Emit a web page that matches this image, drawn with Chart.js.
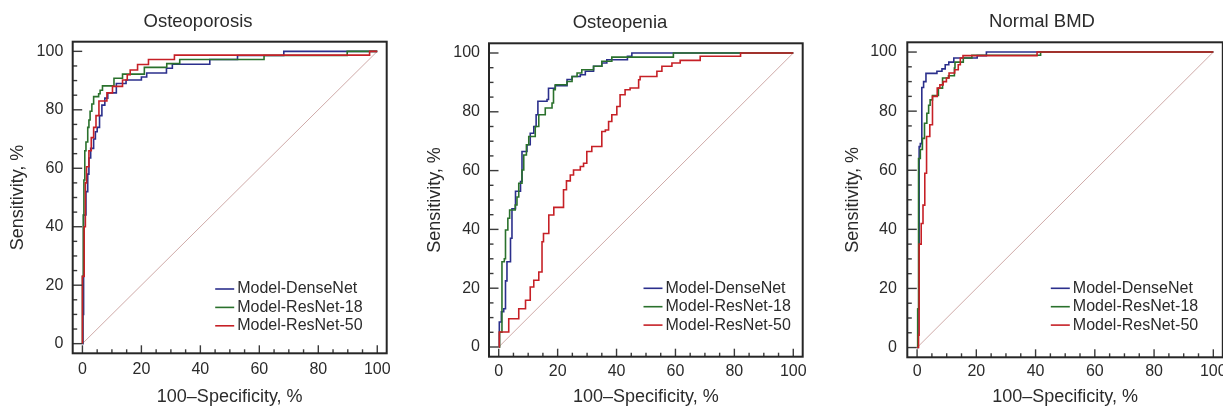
<!DOCTYPE html>
<html>
<head>
<meta charset="utf-8">
<script src="https://cdn.jsdelivr.net/npm/chart.js@4.4.1/dist/chart.umd.min.js"></script>
<style>
html,body{margin:0;padding:0;background:#fff;overflow:hidden;width:1223px;height:409px;position:relative;}
.panel{position:absolute;top:0;}
.panel canvas{display:block;}
</style>
</head>
<body>
<div class="panel" id="p0"><canvas id="c0"></canvas></div>
<div class="panel" id="p1"><canvas id="c1"></canvas></div>
<div class="panel" id="p2"><canvas id="c2"></canvas></div>
<script>
// ---------------- DATA ----------------
const panelTitles = ['Osteoporosis', 'Osteopenia', 'Normal BMD'];
const modelNames = ['Model-DenseNet', 'Model-ResNet-18', 'Model-ResNet-50'];
const xTickValues = [0, 20, 40, 60, 80, 100];
const yTickValues = [0, 20, 40, 60, 80, 100];
const xAxisTitle = '100\u2013Specificity, %';
const yAxisTitle = 'Sensitivity, %';
const diagonalFpr = [0, 100];
const diagonalTpr = [0, 100];

// Osteoporosis
const osteoporosisDenseNetFpr = [0, 0.2, 0.4, 1.2, 1.8, 2.2, 2.8, 3.8, 4.4, 5.0, 5.8, 6.6, 7.6, 8.6, 11.5, 14.8, 20.0, 21.8, 28.5, 30.5, 43.2, 52.6, 68.3, 100];
const osteoporosisDenseNetTpr = [0, 10, 44, 52, 58, 63.5, 66.8, 70, 72.5, 74, 78, 81.6, 84, 85.8, 89, 90.2, 91.2, 92.6, 94.2, 95.6, 97.2, 98.6, 100, 100];
const osteoporosisResNet18Fpr = [0, 0, 0.3, 0.5, 0.8, 1.2, 1.8, 2.2, 2.6, 3.2, 3.8, 5.5, 6.0, 6.8, 10.7, 13.6, 21.0, 28.6, 33.0, 61.6, 89.8, 100];
const osteoporosisResNet18Tpr = [0, 23, 44, 56, 66, 69, 74, 76.5, 79.5, 82, 84.5, 85.5, 86.7, 88.2, 90.8, 92.2, 94.5, 95.8, 97.2, 98.6, 100, 100];
const osteoporosisResNet50Fpr = [0, 0, 0.6, 1.0, 1.4, 2.2, 3.0, 3.8, 4.6, 5.6, 8.3, 10.2, 13.6, 15.2, 16.2, 18.7, 22.4, 31.2, 97.4, 100];
const osteoporosisResNet50Tpr = [0, 23, 40, 55, 60.5, 66, 70.5, 74, 78, 83, 85.8, 88, 90.2, 92, 93.6, 95.5, 97.2, 98.7, 100, 100];

// Osteopenia
const osteopeniaDenseNetFpr = [0, 0.2, 0.9, 1.7, 2.3, 2.8, 4.0, 4.5, 5.7, 7.4, 7.9, 9.6, 10.7, 11.9, 12.7, 13.3, 16.4, 16.9, 19.2, 23.2, 24.9, 27.7, 29.4, 32.2, 35.0, 36.7, 43.7, 45.2, 100];
const osteopeniaDenseNetTpr = [0, 8.5, 12, 13, 22.5, 29, 37, 47, 53, 56.3, 66.5, 68.8, 72.7, 75, 79, 83.6, 84.2, 88, 88.9, 91, 92, 92.6, 93.8, 95.5, 96.6, 97.7, 98.9, 100, 100];
const osteopeniaResNet18Fpr = [0, 0.3, 1.1, 1.9, 2.3, 3.1, 3.7, 5.6, 6.2, 6.8, 7.9, 8.5, 9.4, 10.2, 12.4, 13.6, 15.8, 18.1, 18.6, 19.2, 23.2, 24.9, 26.6, 28.2, 32.2, 35.0, 38.4, 59.3, 100];
const osteopeniaResNet18Tpr = [0, 5, 29, 30, 39.8, 43.8, 46.6, 48.3, 51, 55.7, 60.2, 65.3, 68.8, 71.6, 75, 79, 81.3, 83, 87.5, 89.2, 90.3, 92, 93.2, 94.3, 95.5, 97.2, 98.6, 100, 100];
const osteopeniaResNet50Fpr = [0, 0.2, 3.4, 6.8, 9.1, 10.7, 11.9, 13.6, 14.7, 15.2, 17.0, 18.7, 22.0, 23.0, 24.3, 25.4, 27.7, 28.8, 29.9, 31.6, 35.0, 36.2, 37.3, 38.4, 40.1, 41.2, 42.9, 44.6, 47.5, 48.0, 53.7, 55.4, 58.8, 61.6, 68.4, 82.1, 100];
const osteopeniaResNet50Tpr = [0, 5.1, 9.6, 13, 15.9, 20.4, 22.7, 25.5, 35.8, 38.6, 44.9, 47.5, 53.5, 56.5, 58.5, 60.2, 61.4, 62.5, 66.5, 68.2, 73.3, 73.8, 76.7, 79, 81.8, 85.8, 87.5, 88.1, 90.9, 92, 93.8, 95.5, 96.6, 97.5, 98.9, 100, 100];

// Normal BMD
const normalDenseNetFpr = [0, 0.3, 0.7, 1.1, 1.6, 2.2, 3.0, 6.7, 8.4, 9.5, 10.7, 12.4, 20.3, 23.4, 100];
const normalDenseNetTpr = [0, 13, 68, 69, 88, 90, 92.8, 93.5, 94.3, 95.7, 96.6, 98, 98.8, 100, 100];
const normalResNet18Fpr = [0, 0.2, 0.5, 1.1, 1.8, 2.5, 3.3, 3.9, 4.4, 5.2, 7.2, 8.6, 10.6, 12.6, 12.8, 15.6, 18.5, 41.7, 100];
const normalResNet18Tpr = [0, 13, 64, 67, 70.8, 75.9, 79.3, 82, 83.8, 85.3, 87.8, 91.2, 92, 94.6, 96.6, 98, 98.9, 100, 100];
const normalResNet50Fpr = [0, 0.5, 0.7, 1.4, 2.0, 2.6, 3.2, 4.3, 5.2, 6.8, 7.7, 8.8, 9.9, 10.8, 12.7, 13.9, 14.6, 15.5, 40.5, 100];
const normalResNet50Tpr = [0, 4.2, 35, 42, 48.2, 59, 71.4, 75.4, 85, 87.8, 88.9, 90, 91.2, 92.9, 94, 95.7, 98, 98.8, 100, 100];

// ---------------- STYLE / LAYOUT ----------------
const FONT = "'Liberation Sans', Arial, Helvetica, sans-serif";
const TEXT = '#2b2b2b';
const modelColors = ['#2b2f8c', '#2a712c', '#c62026'];
const diagColor = '#cfaaa8';

// frame geometry (page px) for each panel
const geo = [
  {canvasLeft: 0,   frameL: 72.7,  frameR: 386.7,  frameT: 41.7, frameB: 353.3, titleX: 198,  titleY: 21.7, yTitleX: 18.3,  yTickPad: 9.4, xTickPad: 7.0, legendDX: 142.5, legendDY: 247.3},
  {canvasLeft: 415, frameL: 489,   frameR: 802.7,  frameT: 43.3, frameB: 356.7, titleX: 620,  titleY: 22.7, yTitleX: 435,   yTickPad: 9.0, xTickPad: 5.4, legendDX: 154.5, legendDY: 245.0},
  {canvasLeft: 835, frameL: 907.3, frameR: 1222.8, frameT: 42.3, frameB: 357.3, titleX: 1042, titleY: 21.7, yTitleX: 853.3, yTickPad: 10.4, xTickPad: 4.8, legendDX: 143.5, legendDY: 246.0}
];
const CANVAS_W = 400, CANVAS_H = 409;
const TITLE_SIZE = 18.5, AXIS_TITLE_SIZE = 18, TICK_SIZE = 16, LEGEND_SIZE = 16;

const panelSeries = [
  [[osteoporosisDenseNetFpr, osteoporosisDenseNetTpr], [osteoporosisResNet18Fpr, osteoporosisResNet18Tpr], [osteoporosisResNet50Fpr, osteoporosisResNet50Tpr]],
  [[osteopeniaDenseNetFpr, osteopeniaDenseNetTpr], [osteopeniaResNet18Fpr, osteopeniaResNet18Tpr], [osteopeniaResNet50Fpr, osteopeniaResNet50Tpr]],
  [[normalDenseNetFpr, normalDenseNetTpr], [normalResNet18Fpr, normalResNet18Tpr], [normalResNet50Fpr, normalResNet50Tpr]]
];

function toPoints(xs, ys) { return xs.map((x, i) => ({x: x, y: ys[i]})); }

const decorPlugin = {
  id: 'decor',
  afterDatasetsDraw(chart) {
    const ctx = chart.ctx;
    const a = chart.chartArea;
    const xs = chart.scales.x, ys = chart.scales.y;
    ctx.save();
    // ticks (inward)
    ctx.strokeStyle = '#3a3a3a';
    ctx.lineWidth = 1.4;
    for (let v = 0; v <= 100; v += 5) {
      const major = v % 20 === 0;
      const py = ys.getPixelForValue(v);
      ctx.beginPath();
      ctx.moveTo(a.left, py);
      ctx.lineTo(a.left + (major ? 9.5 : 4.5), py);
      ctx.stroke();
      const px = xs.getPixelForValue(v);
      ctx.beginPath();
      ctx.moveTo(px, a.bottom);
      ctx.lineTo(px, a.bottom - (major ? 8 : 4));
      ctx.stroke();
    }
    // frame
    ctx.strokeStyle = '#262626';
    ctx.lineWidth = 2;
    ctx.strokeRect(a.left, a.top, a.right - a.left, a.bottom - a.top);
    // legend
    const g = chart.options.plugins.decor;
    ctx.font = LEGEND_SIZE + 'px ' + FONT;
    ctx.textBaseline = 'middle';
    ctx.textAlign = 'left';
    chart.data.datasets.forEach((ds, i) => {
      if (!ds.inLegend) return;
      const y = a.top + g.legendDY + ds.legendRow * 18.4;
      const x0 = a.left + g.legendDX;
      ctx.strokeStyle = ds.borderColor;
      ctx.lineWidth = 1.6;
      ctx.beginPath();
      ctx.moveTo(x0, y);
      ctx.lineTo(x0 + 19, y);
      ctx.stroke();
      ctx.fillStyle = TEXT;
      ctx.fillText(ds.label, x0 + 22, y);
    });
    ctx.restore();
  }
};

panelTitles.forEach((title, pi) => {
  const g = geo[pi];
  const wrap = document.getElementById('p' + pi);
  wrap.style.left = g.canvasLeft + 'px';
  const canvas = document.getElementById('c' + pi);
  canvas.width = CANVAS_W; canvas.height = CANVAS_H;
  canvas.style.width = CANVAS_W + 'px'; canvas.style.height = CANVAS_H + 'px';

  const cr = g.frameR - g.canvasLeft;
  const tc = g.titleX - g.canvasLeft;
  const padL = Math.max(0, 2 * tc - cr);
  const padR = CANVAS_W - cr;
  const yScaleW = (g.frameL - g.canvasLeft) - padL;
  const xScaleH = CANVAS_H - g.frameB;
  const axLH = AXIS_TITLE_SIZE * 1.2;
  const yTitlePad = (g.yTitleX - g.canvasLeft) - padL - axLH / 2;
  const tLH = TITLE_SIZE * 1.2;
  const titlePadTop = g.titleY - tLH / 2;
  const titlePadBottom = g.frameT - titlePadTop - tLH;

  const datasets = [];
  // draw order: red on top, then green, then blue, diagonal bottom
  const orderOf = [2, 1, 0];
  panelSeries[pi].forEach((s, mi) => {
    datasets.push({
      label: modelNames[mi],
      data: toPoints(s[0], s[1]),
      borderColor: modelColors[mi],
      borderWidth: 1.6,
      pointRadius: 0,
      stepped: true,
      fill: false,
      order: orderOf[mi],
      inLegend: true,
      legendRow: mi
    });
  });
  datasets.push({
    label: 'diagonal',
    data: toPoints(diagonalFpr, diagonalTpr),
    borderColor: diagColor,
    borderWidth: 1,
    pointRadius: 0,
    fill: false,
    order: 10,
    inLegend: false
  });

  new Chart(canvas, {
    type: 'line',
    data: {datasets: datasets},
    plugins: [decorPlugin],
    options: {
      responsive: false,
      animation: false,
      devicePixelRatio: 1,
      layout: {padding: {left: padL, right: padR, top: 0, bottom: 0}},
      plugins: {
        legend: {display: false},
        tooltip: {enabled: false},
        title: {
          display: true,
          text: title,
          color: TEXT,
          font: {family: FONT, size: TITLE_SIZE, weight: 'normal'},
          padding: {top: titlePadTop, bottom: titlePadBottom}
        },
        decor: {legendDX: g.legendDX, legendDY: g.legendDY}
      },
      scales: {
        x: {
          type: 'linear',
          min: -3.3, max: 103.2,
          afterBuildTicks: (s) => { s.ticks = xTickValues.map(v => ({value: v})); },
          afterFit: (s) => { s.height = xScaleH; },
          grid: {display: false, drawTicks: false},
          border: {display: false},
          ticks: {padding: g.xTickPad, color: TEXT, font: {family: FONT, size: TICK_SIZE}, maxRotation: 0, autoSkip: false},
          title: {display: true, text: xAxisTitle, color: TEXT, font: {family: FONT, size: AXIS_TITLE_SIZE}, padding: {top: 0, bottom: 1.5}}
        },
        y: {
          type: 'linear',
          min: -3.3, max: 103.3,
          afterBuildTicks: (s) => { s.ticks = yTickValues.map(v => ({value: v})); },
          afterFit: (s) => { s.width = yScaleW; },
          grid: {display: false, drawTicks: false},
          border: {display: false},
          ticks: {padding: g.yTickPad, color: TEXT, font: {family: FONT, size: TICK_SIZE}, autoSkip: false},
          title: {display: true, text: yAxisTitle, color: TEXT, font: {family: FONT, size: AXIS_TITLE_SIZE}, padding: {top: yTitlePad, bottom: 0}}
        }
      }
    }
  });
});
</script>
</body>
</html>
